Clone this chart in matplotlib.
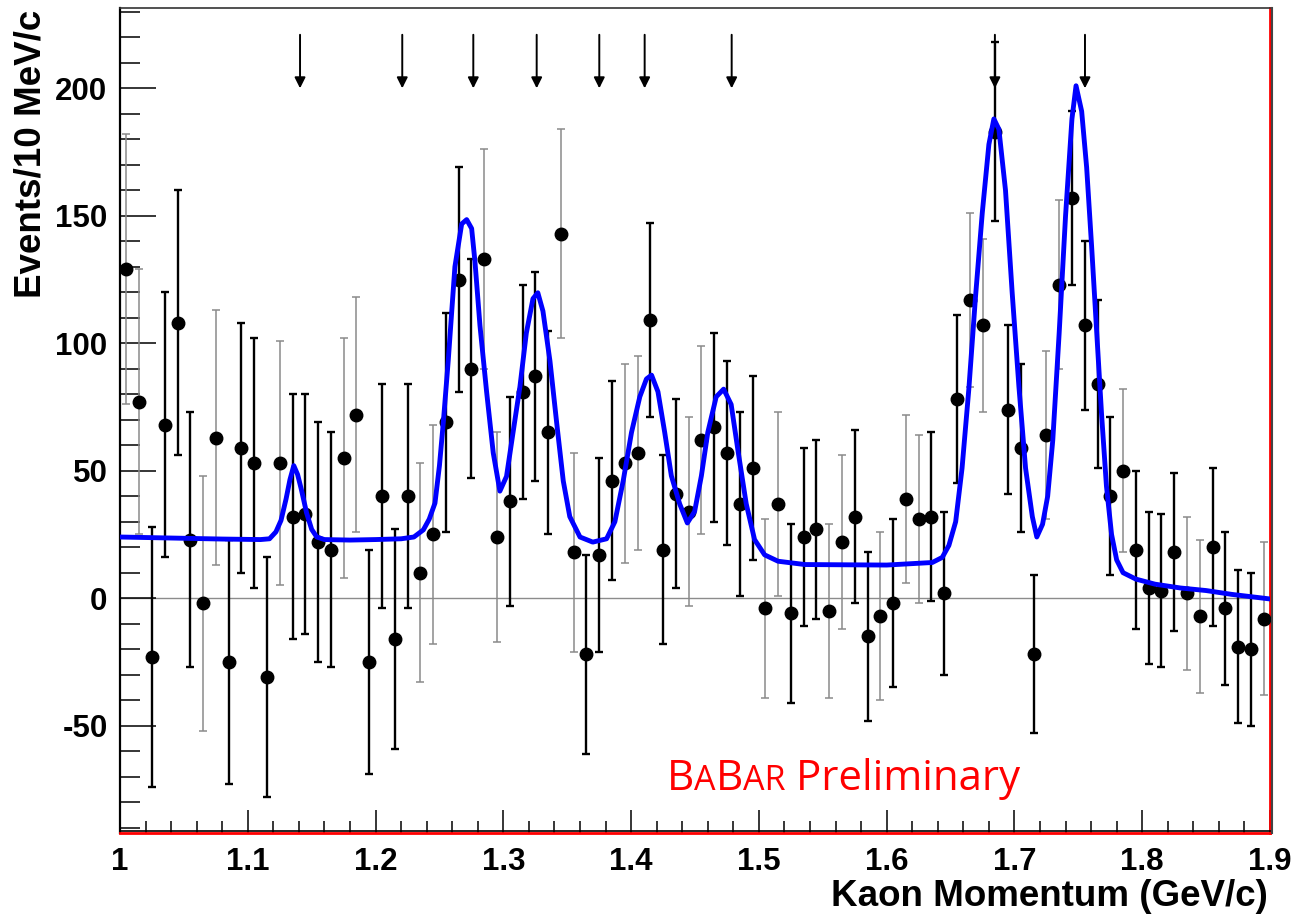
import numpy as np
import matplotlib
matplotlib.use('Agg')
import matplotlib.pyplot as plt
from matplotlib.ticker import MultipleLocator, FuncFormatter
from matplotlib.lines import Line2D

plt.rcParams['font.family'] = ['Liberation Sans', 'DejaVu Sans']
plt.rcParams['axes.unicode_minus'] = False

###############################################
# histogram: 10 MeV/c bins, 1.0 - 1.9 GeV/c
p_lo = 1.0
bin_w = 0.01
events = [
    129, 77, -23, 68, 108, 23, -2, 63, -25, 59,
    53, -31, 53, 32, 33, 22, 19, 55, 72, -25,
    40, -16, 40, 10, 25, 69, 125, 90, 133, 24,
    38, 81, 87, 65, 143, 18, -22, 17, 46, 53,
    57, 109, 19, 41, 34, 62, 67, 57, 37, 51,
    -4, 37, -6, 24, 27, -5, 22, 32, -15, -7,
    -2, 39, 31, 32, 2, 78, 117, 107, 183, 74,
    59, -22, 64, 123, 157, 107, 84, 40, 50, 19,
    4, 3, 18, 2, -7, 20, -4, -19, -20, -8,
]
errors = [
    53, 52, 51, 52, 52, 50, 50, 50, 48, 49,
    49, 47, 48, 48, 47, 47, 46, 47, 46, 44,
    44, 43, 44, 43, 43, 43, 44, 43, 43, 41,
    41, 42, 41, 40, 41, 39, 39, 38, 39, 39,
    38, 38, 37, 37, 37, 37, 37, 36, 36, 36,
    35, 36, 35, 35, 35, 34, 34, 34, 33, 33,
    33, 33, 33, 33, 32, 33, 34, 34, 35, 33,
    33, 31, 33, 33, 34, 33, 33, 31, 32, 31,
    30, 30, 31, 30, 30, 31, 30, 30, 30, 30,
]
# bars that print pale grey instead of black
pale_bins = [0, 1, 6, 7, 12, 17, 18, 23, 24, 28, 29, 34, 35, 39, 40, 44, 45,
             50, 51, 55, 56, 59, 61, 62, 66, 67, 72, 73, 78, 83, 84, 89]

# fit curve
fit_p = [1.000, 1.020, 1.050, 1.080, 1.110, 1.117, 1.122, 1.126, 1.130, 1.133,
         1.136, 1.139, 1.142, 1.146, 1.150, 1.154, 1.160, 1.180, 1.200, 1.220,
         1.230, 1.2374, 1.242, 1.2465, 1.250, 1.253, 1.2569, 1.2621, 1.2674, 1.2713,
         1.2752, 1.2778, 1.2817, 1.2869, 1.2921, 1.2973, 1.3025, 1.3076, 1.313, 1.318,
         1.3232, 1.327, 1.331, 1.3365, 1.3417, 1.3469, 1.352, 1.360, 1.370, 1.3808,
         1.3873, 1.3938, 1.4003, 1.4068, 1.412, 1.416, 1.421, 1.4263, 1.4315, 1.438,
         1.444, 1.4497, 1.455, 1.460, 1.4666, 1.4724, 1.4783, 1.4836, 1.4901, 1.4966,
         1.5045, 1.515, 1.536, 1.600, 1.6357, 1.6435, 1.6487, 1.654, 1.659, 1.6643,
         1.6695, 1.6748, 1.680, 1.6839, 1.6878, 1.693, 1.6982, 1.7035, 1.7087, 1.714,
         1.7175, 1.722, 1.726, 1.730, 1.735, 1.740, 1.745, 1.7482, 1.7526, 1.7565,
         1.7604, 1.7643, 1.7682, 1.772, 1.776, 1.780, 1.785, 1.795, 1.810, 1.830,
         1.850, 1.870, 1.900]
fit_y = [24.0, 23.8, 23.5, 23.2, 23.0, 23.3, 26.0, 30.5, 39.0, 46.5,
         52.0, 48.5, 42.5, 33.5, 27.0, 24.0, 23.0, 22.8, 23.0, 23.3,
         24.0, 26.8, 31.0, 37.3, 52.0, 68.8, 93.3, 130.0, 146.8, 148.5,
         145.0, 132.0, 107.0, 81.0, 57.0, 42.0, 47.8, 65.0, 83.0, 104.0,
         117.5, 119.8, 112.6, 93.0, 69.0, 46.0, 32.0, 24.0, 22.0, 23.3,
         30.0, 46.0, 65.0, 79.0, 86.0, 87.5, 81.0, 65.0, 48.0, 37.0,
         29.5, 34.0, 48.0, 65.0, 79.0, 82.0, 76.0, 58.0, 37.0, 23.0,
         17.0, 14.5, 13.2, 13.0, 14.0, 16.0, 20.7, 30.0, 51.0, 82.0,
         118.0, 151.0, 178.0, 188.0, 184.0, 160.0, 120.0, 83.0, 51.0, 32.0,
         24.0, 29.0, 40.0, 62.0, 104.0, 150.0, 188.0, 201.0, 191.0, 169.0,
         138.0, 105.0, 72.0, 44.0, 25.0, 15.0, 10.0, 7.5, 5.5, 4.0,
         3.0, 1.5, -0.3]

# expected state positions (arrows)
arrow_p = [1.1409, 1.2209, 1.2765, 1.3261, 1.3751, 1.4106, 1.4787, 1.6847, 1.7552]
###############################################

events = np.asarray(events, dtype=float)
errors = np.asarray(errors, dtype=float)
centres = p_lo + bin_w * (np.arange(len(events)) + 0.5)
pale = np.zeros(len(events), dtype=bool)
pale[pale_bins] = True

W, H = 1299, 919
fig = plt.figure(figsize=(W / 100, H / 100), dpi=100)
ax = fig.add_axes([120 / W, 1 - 833 / H, 1150 / W, 825 / H])
ax.set_xlim(1.0, 1.9)
ax.set_ylim(-92.1, 231.5)

ax.axhline(0, color='#8c8c8c', lw=1.0, zorder=1)

ax.errorbar(centres[~pale], events[~pale], yerr=errors[~pale], fmt='none',
            ecolor='black', elinewidth=1.7, capsize=3, capthick=1.7, zorder=2)
ax.errorbar(centres[pale], events[pale], yerr=errors[pale], fmt='none',
            ecolor='#8a8a8a', elinewidth=1.1, capsize=3, capthick=1.1, zorder=2)
ax.plot(centres, events, 'o', color='black', ms=9, zorder=3)
ax.plot(fit_p, fit_y, color='#0000ff', lw=3.5, zorder=4)

for p in arrow_p:
    ax.annotate('', xy=(p, 200), xytext=(p, 221),
                arrowprops=dict(arrowstyle='-|>', color='black', lw=1.4,
                                mutation_scale=16, shrinkA=0, shrinkB=0))

# axes, ticks
ax.xaxis.set_major_locator(MultipleLocator(0.1))
ax.xaxis.set_minor_locator(MultipleLocator(0.02))
ax.yaxis.set_major_locator(MultipleLocator(50))
ax.yaxis.set_minor_locator(MultipleLocator(10))
ax.xaxis.set_major_formatter(FuncFormatter(lambda v, pos: '{:g}'.format(round(v, 2))))
ax.yaxis.set_major_formatter(FuncFormatter(lambda v, pos: '{:g}'.format(v)))
ax.xaxis.set_tick_params(which='major', direction='in', length=16.5, width=1.1, pad=10)
ax.xaxis.set_tick_params(which='minor', direction='in', length=8.6, width=1.1)
ax.yaxis.set_tick_params(which='major', direction='in', length=26, width=1.1, pad=9)
ax.yaxis.set_tick_params(which='minor', direction='in', length=14.4, width=1.1)
for lab in ax.get_xticklabels() + ax.get_yticklabels():
    lab.set_fontsize(22.5)
    lab.set_fontweight('bold')

ax.spines['left'].set_linewidth(1.6)
ax.spines['top'].set_linewidth(1.2)
ax.spines['top'].set_color('#333333')
ax.spines['bottom'].set_color('red')
ax.spines['bottom'].set_linewidth(2.0)
ax.spines['right'].set_color('red')
ax.spines['right'].set_linewidth(2.0)
fig.add_artist(Line2D([120 / W, 1270 / W], [1 - 831 / H] * 2, color='black', lw=1.2))
fig.add_artist(Line2D([1272 / W] * 2, [1 - 833 / H, 1 - 8 / H], color='#444444', lw=1.5))

fig.text(31 / W, 1 - 10 / H, 'Events/10 MeV/c', rotation=90, ha='center', va='top',
         fontsize=26.5, fontweight='bold')
fig.text(1268 / W, 1 - 897 / H, 'Kaon Momentum (GeV/c)', ha='right', va='center',
         fontsize=26.5, fontweight='bold')

# BABAR logo-style text with small caps
r = fig.canvas.get_renderer()
x = 1.428
for s, size in [('B', 30.3), ('A', 24.5), ('B', 30.3), ('AR', 24.5), (' Preliminary', 30.3)]:
    t = ax.text(x, -75.2, s, color='red', fontsize=size, family='Open Sans',
                ha='left', va='baseline')
    bb = t.get_window_extent(renderer=r)
    x = ax.transData.inverted().transform((bb.x1, bb.y0))[0]

fig.savefig('out.png', dpi=100)
